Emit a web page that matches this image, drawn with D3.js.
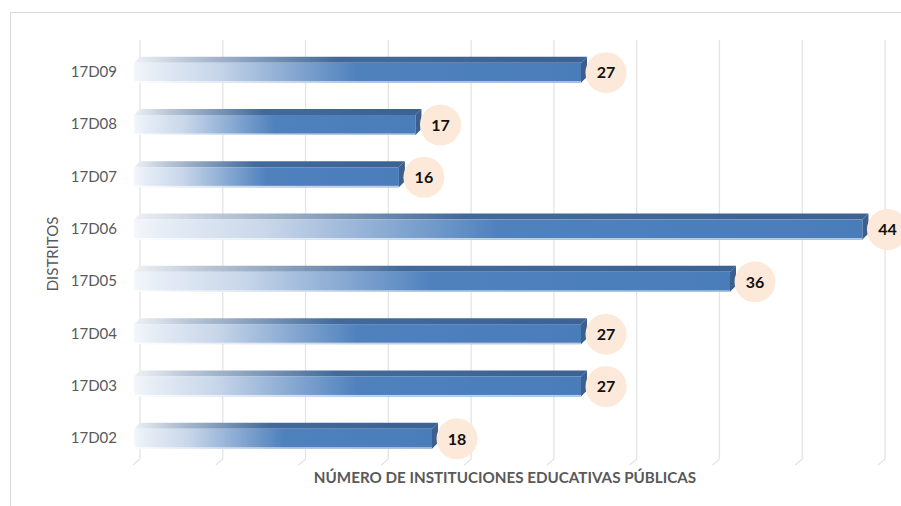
<!DOCTYPE html>
<html>
<head>
<meta charset="utf-8">
<script src="https://cdn.jsdelivr.net/npm/d3@7"></script>
<style>
  html, body { margin: 0; padding: 0; background: #fff; }
  svg { display: block; font-family: Lato, "Open Sans", sans-serif; }
</style>
</head>
<body>
<svg id="chart" width="901" height="506"></svg>
<script>
// Number of public schools per district
const categories = ["17D02", "17D03", "17D04", "17D05", "17D06", "17D07", "17D08", "17D09"];
const values = [18, 27, 27, 36, 44, 16, 17, 27];
const xTicks = [0, 5, 10, 15, 20, 25, 30, 35, 40, 45];
const xTitle = "NÚMERO DE INSTITUCIONES EDUCATIVAS PÚBLICAS";
const yTitle = "DISTRITOS";

const W = 901, H = 506;
const svg = d3.select("#chart");
const defs = svg.append("defs");

// chart frame
svg.append("rect")
  .attr("x", 10.5).attr("y", 12.5)
  .attr("width", 1000).attr("height", 1000)
  .attr("fill", "#fff").attr("stroke", "#d9d9d9");

// scales: back wall of the 3D plot sits on the gridlines
const x = d3.scaleLinear().domain([0, 45]).range([140, 885]);
const y = d3.scaleBand().domain(categories.slice().reverse()).range([46, 464.4]);

const depthX = 6, depthY = 6;   // 3D offset of the bar front face
const barH = 20;

// gradients for the bar faces
const gFront = defs.append("linearGradient").attr("id", "gFront")
  .attr("x1", 0).attr("x2", 1).attr("y1", 0).attr("y2", 0);
[[0, "#f4f7fb"], [0.04, "#e6edf6"], [0.18, "#c9d7ea"], [0.5, "#4f81bd"], [1, "#4a7dba"]]
  .forEach(([o, c]) => gFront.append("stop").attr("offset", o).attr("stop-color", c));

const gTop = defs.append("linearGradient").attr("id", "gTop")
  .attr("x1", 0).attr("x2", 1).attr("y1", 0).attr("y2", 0);
[[0, "#eef1f5"], [0.12, "#b9c6d6"], [0.45, "#42699a"], [1, "#3c6293"]]
  .forEach(([o, c]) => gTop.append("stop").attr("offset", o).attr("stop-color", c));

const gEdge = defs.append("linearGradient").attr("id", "gEdge")
  .attr("x1", 0).attr("x2", 1).attr("y1", 0).attr("y2", 0);
[[0, "#ffffff"], [0.5, "#c3d3e8"], [1, "#b7cae3"]]
  .forEach(([o, c]) => gEdge.append("stop").attr("offset", o).attr("stop-color", c));

defs.append("filter").attr("id", "soft")
  .attr("x", "-5%").attr("y", "-20%").attr("width", "110%").attr("height", "140%")
  .append("feGaussianBlur").attr("stdDeviation", 0.45);

// vertical gridlines bending onto the floor
svg.append("g").selectAll("path")
  .data(xTicks).join("path")
  .attr("d", t => `M${x(t)},40 V459 L${x(t) - 7},465`)
  .attr("fill", "none")
  .attr("stroke", "#e4e4e4")
  .attr("stroke-width", 1.3);

// bars
const rows = categories.map((c, i) => ({ c, v: values[i] }));
const bars = svg.append("g").attr("filter", "url(#soft)")
  .selectAll("g").data(rows).join("g");

bars.each(function (d) {
  const g = d3.select(this);
  const cy = y(d.c) + y.bandwidth() / 2 + 0.5;
  const fTop = cy - barH / 2, fBot = cy + barH / 2;
  const x0 = x(0) - depthX, x1 = x(d.v) - depthX;

  // top face
  g.append("path")
    .attr("d", `M${x0},${fTop} L${x0 + depthX},${fTop - depthY} L${x1 + depthX},${fTop - depthY} L${x1},${fTop} Z`)
    .attr("fill", "url(#gTop)");
  // front face
  g.append("rect")
    .attr("x", x0).attr("y", fTop)
    .attr("width", x1 - x0).attr("height", barH)
    .attr("fill", "url(#gFront)");
  // light lower edge
  g.append("rect")
    .attr("x", x0).attr("y", fBot - 1.5)
    .attr("width", x1 - x0).attr("height", 1.5)
    .attr("fill", "url(#gEdge)");
  // right side face
  g.append("path")
    .attr("d", `M${x1},${fTop} L${x1 + depthX},${fTop - depthY} L${x1 + depthX},${fBot - depthY} L${x1},${fBot} Z`)
    .attr("fill", "#3a5f8e");
});

// value bubbles
const labels = svg.append("g").selectAll("g").data(rows).join("g")
  .attr("transform", d => `translate(${x(d.v) + 19},${y(d.c) + y.bandwidth() / 2 + 0.5})`);
labels.append("circle").attr("r", 20.5).attr("fill", "#fde9d9");
labels.append("text")
  .attr("text-anchor", "middle").attr("dy", "0.36em")
  .attr("font-size", 16).attr("font-weight", "bold").attr("fill", "#111")
  .text(d => d.v);

// category labels
svg.append("g").selectAll("text")
  .data(categories).join("text")
  .attr("x", 117)
  .attr("y", d => y(d) + y.bandwidth() / 2 - 0.5)
  .attr("dy", "0.36em")
  .attr("text-anchor", "end")
  .attr("font-size", 15)
  .attr("fill", "#595959")
  .text(d => d);

// axis titles
svg.append("text")
  .attr("transform", "translate(58,254) rotate(-90)")
  .attr("text-anchor", "middle")
  .attr("font-size", 15)
  .attr("fill", "#595959")
  .text(yTitle);

svg.append("text")
  .attr("x", 505).attr("y", 483)
  .attr("text-anchor", "middle")
  .attr("font-size", 15.2)
  .attr("font-weight", "bold")
  .attr("fill", "#595959")
  .text(xTitle);
</script>
</body>
</html>
